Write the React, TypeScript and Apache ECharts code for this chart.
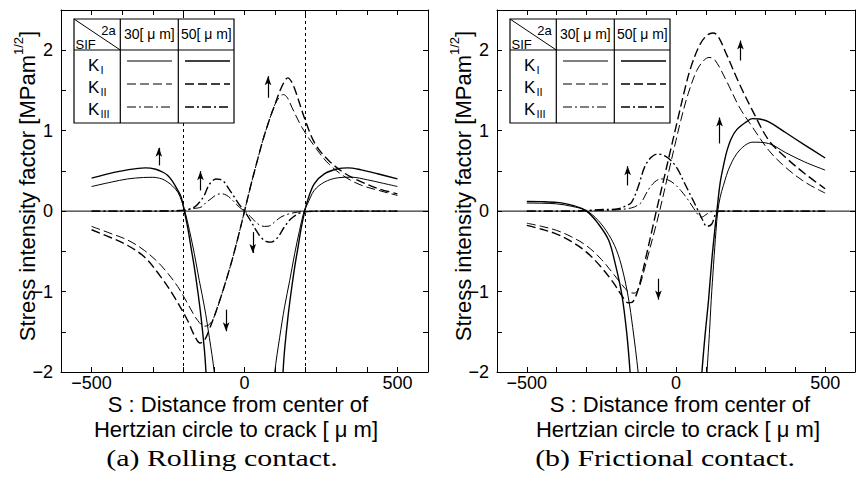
import React, { useEffect, useRef } from 'react';
import * as echarts from 'echarts';

type Pt = [number, number | string];

// ---------- axis ticks ----------
const xLabelTicks = [-500, 0, 500];
const yLabelTicks = [-2, -1, 0, 1, 2];
const zeroLine: Pt[] = [[-600, 0], [600, 0]];
const crackEdgesA = [-200, 200];

// ---------- (a) Rolling contact ----------
const aKI30: Pt[] = [
  [-500, 0.306], [-436, 0.36], [-382, 0.4], [-330, 0.418], [-300, 0.42], [-270, 0.4], [-251, 0.36], [-235, 0.31],
  [-218, 0.236], [-205, 0.12], [-195, 0], [-180, -0.24], [-164, -0.53], [-148, -0.86], [-131, -1.19], [-115, -1.57],
  [-99, -2.0], [-94, -2.3], [0, '-'],
  [94, -2.3], [99, -2.0], [115, -1.57], [131, -1.19], [148, -0.86], [164, -0.53], [180, -0.24], [195, 0], [206, 0.09],
  [228, 0.257], [261, 0.36], [305, 0.414], [348, 0.422], [402, 0.389], [446, 0.352], [500, 0.306],
];
const aKI50: Pt[] = [
  [-500, 0.41], [-450, 0.46], [-400, 0.5], [-360, 0.525], [-324, 0.538], [-290, 0.52], [-265, 0.48], [-251, 0.443],
  [-237, 0.38], [-224, 0.298], [-207, 0.174], [-197, 0], [-186, -0.2], [-175, -0.45], [-164, -0.7], [-153, -0.99],
  [-142, -1.32], [-131, -1.73], [-126, -2.0], [-122, -2.3], [0, '-'],
  [122, -2.3], [126, -2.0], [131, -1.73], [142, -1.32], [153, -0.99], [164, -0.7], [175, -0.45], [186, -0.2], [197, 0],
  [206, 0.13], [228, 0.34], [261, 0.464], [305, 0.526], [338, 0.538], [381, 0.513], [435, 0.464], [500, 0.4],
];
const aKII30: Pt[] = [
  [-500, -0.19], [-436, -0.28], [-382, -0.36], [-327, -0.49], [-273, -0.675], [-218, -0.94], [-186, -1.15], [-153, -1.36],
  [-130, -1.43], [-115, -1.41], [-100, -1.32], [-80, -1.1], [-60, -0.86], [-40, -0.6], [-20, -0.31], [0, 0], [20, 0.31],
  [40, 0.6], [60, 0.88], [80, 1.12], [100, 1.33], [115, 1.42], [127, 1.449], [140, 1.41], [155, 1.29], [188, 1.04],
  [231, 0.795], [275, 0.588], [330, 0.422], [384, 0.319], [439, 0.257], [500, 0.195],
];
const aKII50: Pt[] = [
  [-500, -0.232], [-436, -0.331], [-382, -0.427], [-327, -0.571], [-273, -0.82], [-229, -1.07], [-186, -1.36],
  [-164, -1.545], [-145, -1.64], [-130, -1.6], [-115, -1.47], [-100, -1.32], [-80, -1.1], [-60, -0.86], [-40, -0.6],
  [-20, -0.31], [0, 0], [20, 0.31], [40, 0.6], [60, 0.88], [80, 1.12], [100, 1.33], [120, 1.53], [142, 1.656],
  [155, 1.6], [166, 1.5], [199, 1.126], [231, 0.836], [275, 0.63], [330, 0.464], [384, 0.36], [439, 0.277], [500, 0.215],
];
const aKIII30: Pt[] = [
  [-500, 0], [-300, 0], [-240, 0.002], [-197, 0.008], [-170, 0.03], [-142, 0.05], [-125, 0.11], [-109, 0.154],
  [-93, 0.2], [-77, 0.216], [-60, 0.2], [-44, 0.154], [-17, 0.05], [0, 0], [20, -0.07], [43, -0.157], [65, -0.19],
  [81, -0.185], [100, -0.13], [119, -0.074], [145, -0.035], [174, -0.012], [200, -0.004], [250, 0], [500, 0],
];
const aKIII50: Pt[] = [
  [-500, 0], [-300, 0], [-240, 0.004], [-197, 0.012], [-164, 0.05], [-145, 0.12], [-131, 0.2], [-120, 0.298],
  [-109, 0.36], [-93, 0.4], [-80, 0.395], [-66, 0.36], [-50, 0.27], [-33, 0.174], [-17, 0.08], [0, 0], [20, -0.12],
  [40, -0.25], [55, -0.33], [70, -0.375], [87, -0.385], [108, -0.33], [130, -0.2], [152, -0.095], [185, -0.02],
  [230, -0.003], [300, 0], [500, 0],
];
// arrows: [s, from, to]
const aArrows: number[][] = [
  [-280, 0.568, 0.837], [-144, 0.257, 0.547], [77, 1.409, 1.727], [27, -0.261, -0.571], [-60, -1.225, -1.544],
];

// ---------- (b) Frictional contact ----------
const bKI30: Pt[] = [
  [-500, 0.1], [-450, 0.098], [-400, 0.09], [-350, 0.06], [-300, 0.005], [-260, -0.12], [-226, -0.29], [-200, -0.48],
  [-180, -0.72], [-160, -1.07], [-145, -1.45], [-127, -2.0], [-121, -2.3], [0, '-'],
  [100, -2.3], [104, -2.0], [112, -1.52], [118, -1.11], [126, -0.66], [134, -0.25], [140, 0], [148, 0.17], [159, 0.32],
  [181, 0.56], [214, 0.76], [258, 0.857], [311, 0.84], [366, 0.73], [432, 0.61], [500, 0.51],
];
const bKI50: Pt[] = [
  [-500, 0.12], [-450, 0.118], [-400, 0.108], [-350, 0.075], [-300, 0], [-260, -0.16], [-226, -0.36], [-204, -0.65],
  [-182, -1.03], [-165, -1.52], [-154, -2.0], [-150, -2.3], [0, '-'],
  [83, -2.3], [87, -2.0], [98, -1.52], [109, -1.11], [120, -0.61], [131, -0.2], [137, 0], [148, 0.35], [160, 0.58],
  [170, 0.74], [185, 0.9], [203, 1.01], [236, 1.11], [256, 1.15], [280, 1.145], [311, 1.11], [366, 0.98], [432, 0.82],
  [500, 0.66],
];
const bKII30: Pt[] = [
  [-500, -0.15], [-450, -0.19], [-400, -0.24], [-350, -0.32], [-300, -0.43], [-250, -0.6], [-210, -0.78], [-180, -0.92],
  [-160, -1.0], [-140, -1.02], [-125, -0.96], [-110, -0.78], [-90, -0.5], [-70, -0.22], [-55, 0], [-30, 0.4], [0, 0.88],
  [16, 1.127], [40, 1.45], [70, 1.75], [95, 1.88], [111, 1.91], [130, 1.88], [168, 1.627], [212, 1.295], [256, 1.046],
  [311, 0.755], [366, 0.548], [432, 0.361], [500, 0.224],
];
const bKII50: Pt[] = [
  [-500, -0.178], [-450, -0.225], [-400, -0.285], [-350, -0.38], [-300, -0.51], [-250, -0.7], [-210, -0.89],
  [-180, -1.06], [-160, -1.14], [-148, -1.135], [-135, -1.06], [-120, -0.88], [-100, -0.56], [-80, -0.23], [-66, 0],
  [-40, 0.41], [-20, 0.73], [5, 1.127], [30, 1.52], [50, 1.79], [80, 2.07], [105, 2.19], [124, 2.215], [140, 2.18],
  [168, 1.96], [212, 1.585], [256, 1.253], [311, 0.88], [366, 0.672], [432, 0.465], [500, 0.278],
];
const bKIII30: Pt[] = [
  [-500, 0], [-350, 0], [-259, 0.008], [-200, 0.015], [-149, 0.04], [-130, 0.07], [-116, 0.11], [-94, 0.257],
  [-72, 0.36], [-50, 0.4], [-28, 0.39], [-6, 0.34], [16, 0.257], [38, 0.153], [60, 0.03], [76, -0.054], [86, -0.075],
  [100, -0.045], [115, -0.01], [130, 0], [500, 0],
];
const bKIII50: Pt[] = [
  [-500, 0], [-350, 0], [-259, 0.017], [-193, 0.03], [-165, 0.07], [-149, 0.11], [-127, 0.3], [-105, 0.55],
  [-83, 0.67], [-61, 0.71], [-39, 0.69], [-17, 0.63], [5, 0.525], [27, 0.36], [49, 0.195], [71, 0.03], [87, -0.095],
  [104, -0.19], [120, -0.16], [137, -0.012], [160, 0], [500, 0],
];
const bArrows: number[][] = [
  [-162, 0.319, 0.609], [-59, -0.84, -1.15], [146, 0.841, 1.214], [216, 1.872, 2.17],
];

const FONT = '"Liberation Sans", Arial, Helvetica, sans-serif';
const SERIF = '"Liberation Serif", "Times New Roman", serif';

const DASH_II = [9, 4];
const DASH_III = [9, 3, 2, 3];

const fmtNum = (v: number) => (v < 0 ? '\u2212' + Math.abs(v) : String(v));

const panels = [
  {
    left: 61, width: 367,
    series: [aKI30, aKI50, aKII30, aKII50, aKIII30, aKIII50],
    arrows: aArrows, edges: crackEdgesA,
  },
  {
    left: 497, width: 364,
    series: [bKI30, bKI50, bKII30, bKII50, bKIII30, bKIII50],
    arrows: bArrows, edges: [] as number[],
  },
];

function buildOption() {
  const grid: any[] = [];
  const xAxis: any[] = [];
  const yAxis: any[] = [];
  const series: any[] = [];
  const axisLine = { show: true, onZero: false, lineStyle: { color: '#000', width: 1 } };
  const axisTick = { show: true, inside: true, length: 5, lineStyle: { color: '#000', width: 1 } };

  panels.forEach((p, i) => {
    grid.push({ left: p.left, top: 10, width: p.width, height: 362, containLabel: false });
    const xb = { type: 'value', gridIndex: i, min: -600, max: 600, interval: 100, axisLine, axisTick, splitLine: { show: false } };
    xAxis.push({
      ...xb, position: 'bottom',
      axisLabel: {
        show: true, margin: 3, fontSize: 18, lineHeight: 16, fontFamily: FONT, color: '#000',
        formatter: (v: number) => (xLabelTicks.includes(v) ? fmtNum(v) : ''),
      },
    });
    xAxis.push({ ...xb, position: 'top', axisLabel: { show: false } });
    const yb = { type: 'value', gridIndex: i, min: -2, max: 2.5, interval: 0.5, axisLine, axisTick, splitLine: { show: false } };
    yAxis.push({
      ...yb, position: 'left',
      axisLabel: {
        show: true, margin: 8, fontSize: 18, fontFamily: FONT, color: '#000',
        formatter: (v: number) => (yLabelTicks.some((t) => Math.abs(t - v) < 1e-9) ? fmtNum(Math.round(v)) : ''),
      },
    });
    yAxis.push({ ...yb, position: 'right', axisLabel: { show: false } });

    const dashes: any[] = ['solid', 'solid', DASH_II, DASH_II, DASH_III, DASH_III];
    p.series.forEach((d, k) => {
      const is50 = k % 2 === 1;
      series.push({
        type: 'line', xAxisIndex: i * 2, yAxisIndex: i * 2, data: d,
        symbol: 'none', showSymbol: false, smooth: 0.35, clip: true, silent: true, z: 3,
        lineStyle: { color: '#000', width: is50 ? 1.4 : 1, type: dashes[k] },
      });
    });
    // zero line + crack edge lines
    series.push({
      type: 'line', xAxisIndex: i * 2, yAxisIndex: i * 2, data: zeroLine,
      symbol: 'none', silent: true, z: 2, lineStyle: { color: '#000', width: 1 },
      markLine: {
        silent: true, symbol: ['none', 'none'], label: { show: false }, animation: false,
        lineStyle: { color: '#000', width: 1, type: [3, 3] },
        data: p.edges.map((e) => ({ xAxis: e })),
      },
    });
    // arrows
    series.push({
      type: 'line', xAxisIndex: i * 2, yAxisIndex: i * 2, data: zeroLine,
      symbol: 'none', silent: true, z: 4, lineStyle: { opacity: 0 },
      markLine: {
        silent: true, symbol: ['none', 'arrow'], symbolSize: [1, 9], label: { show: false }, animation: false,
        lineStyle: { color: '#000', width: 1.2, type: 'solid', opacity: 1 },
        data: p.arrows.map(([s, a, b]) => {
          const dir = b > a ? 1 : -1;
          return [
            { coord: [s, a] },
            { coord: [s, b - dir * 0.05], symbol: 'arrow', symbolSize: [5, 9] },
          ];
        }),
      },
    });
  });

  const graphic: any[] = [];
  const textEl = (text: string, x: number, y: number, size: number, opts: any = {}) => ({
    type: 'text', x, y, silent: true, z: 102, scaleX: opts.scaleX ?? 1,
    style: {
      text, fill: '#000', font: `${size}px ${opts.family ?? FONT}`,
      align: opts.align ?? 'center', verticalAlign: 'middle',
    },
  });
  const lineEl = (x1: number, y1: number, x2: number, y2: number, w: number, dash: any = null) => ({
    type: 'line', silent: true, z: 101, shape: { x1, y1, x2, y2 },
    style: { stroke: '#000', lineWidth: w, lineDash: dash },
  });

  panels.forEach((p, i) => {
    const ox = i * 436;
    // y axis title
    graphic.push({
      type: 'text', x: 25 + ox, y: 186, rotation: Math.PI / 2, silent: true, z: 102,
      style: {
        text: '{m|Stress intensity factor [MPam}{s|1/2}{m|]}',
        align: 'center', verticalAlign: 'middle', fill: '#000',
        rich: {
          m: { fontSize: 22, fontFamily: FONT, lineHeight: 26, verticalAlign: 'bottom', fill: '#000' },
          s: { fontSize: 13, fontFamily: FONT, lineHeight: 13, verticalAlign: 'top', fill: '#000' },
        },
      },
    });
    // x axis title
    const cx = i === 0 ? 238 : 680;
    graphic.push(textEl('S : Distance from center of', cx, 404, 22));
    graphic.push(textEl('Hertzian circle to crack [ \u03bc m]', cx - 2, 429, 22));
    graphic.push(textEl(i === 0 ? '(a) Rolling contact.' : '(b) Frictional contact.', i === 0 ? 222 : 665, 458, 23,
      { family: SERIF, scaleX: 1.3 }));

    // legend table
    const L = 74 + ox, T = 19, R = 234 + ox, B = 123, HB = 50, C1 = 120.3 + ox, C2 = 178.3 + ox;
    graphic.push({
      type: 'rect', silent: true, z: 100, shape: { x: L, y: T, width: R - L, height: B - T },
      style: { fill: '#fff', stroke: '#000', lineWidth: 1.2 },
    });
    graphic.push(lineEl(L, HB, R, HB, 1.2));
    graphic.push(lineEl(C1, T, C1, B, 1.2));
    graphic.push(lineEl(C2, T, C2, B, 1.2));
    graphic.push(lineEl(L, T, C1, HB, 1));
    graphic.push(textEl('2a', 108.5 + ox, 30, 13));
    graphic.push(textEl('SIF', 75.5 + ox, 44, 13, { align: 'left' }));
    graphic.push(textEl('30[ \u03bc m]', 149.3 + ox, 34, 14));
    graphic.push(textEl('50[ \u03bc m]', 206.3 + ox, 34, 14));
    const rows = [
      { sub: 'I', y: 65, dash: null },
      { sub: 'II', y: 87, dash: DASH_II },
      { sub: 'III', y: 109, dash: DASH_III },
    ];
    const sampleY = [61, 84, 107];
    rows.forEach((r, k) => {
      graphic.push(textEl('K', 88 + ox, r.y, 17, { align: 'left' }));
      graphic.push(textEl(r.sub, 100.5 + ox, r.y + 5, 11, { align: 'left' }));
      graphic.push(lineEl(127 + ox, sampleY[k], 172 + ox, sampleY[k], 1, r.dash));
      graphic.push(lineEl(185 + ox, sampleY[k], 230 + ox, sampleY[k], 1.5, r.dash));
    });
  });

  return { animation: false, backgroundColor: '#fff', grid, xAxis, yAxis, series, graphic };
}

export default function App() {
  const ref = useRef<HTMLDivElement>(null);
  useEffect(() => {
    if (!ref.current) return;
    const chart = echarts.init(ref.current, undefined, { renderer: 'svg', width: 858, height: 481 });
    chart.setOption(buildOption() as any);
    return () => chart.dispose();
  }, []);
  return (
    <div
      ref={ref}
      style={{ position: 'absolute', left: 0, top: 0, width: 858, height: 481, background: '#fff', overflow: 'hidden' }}
    />
  );
}
